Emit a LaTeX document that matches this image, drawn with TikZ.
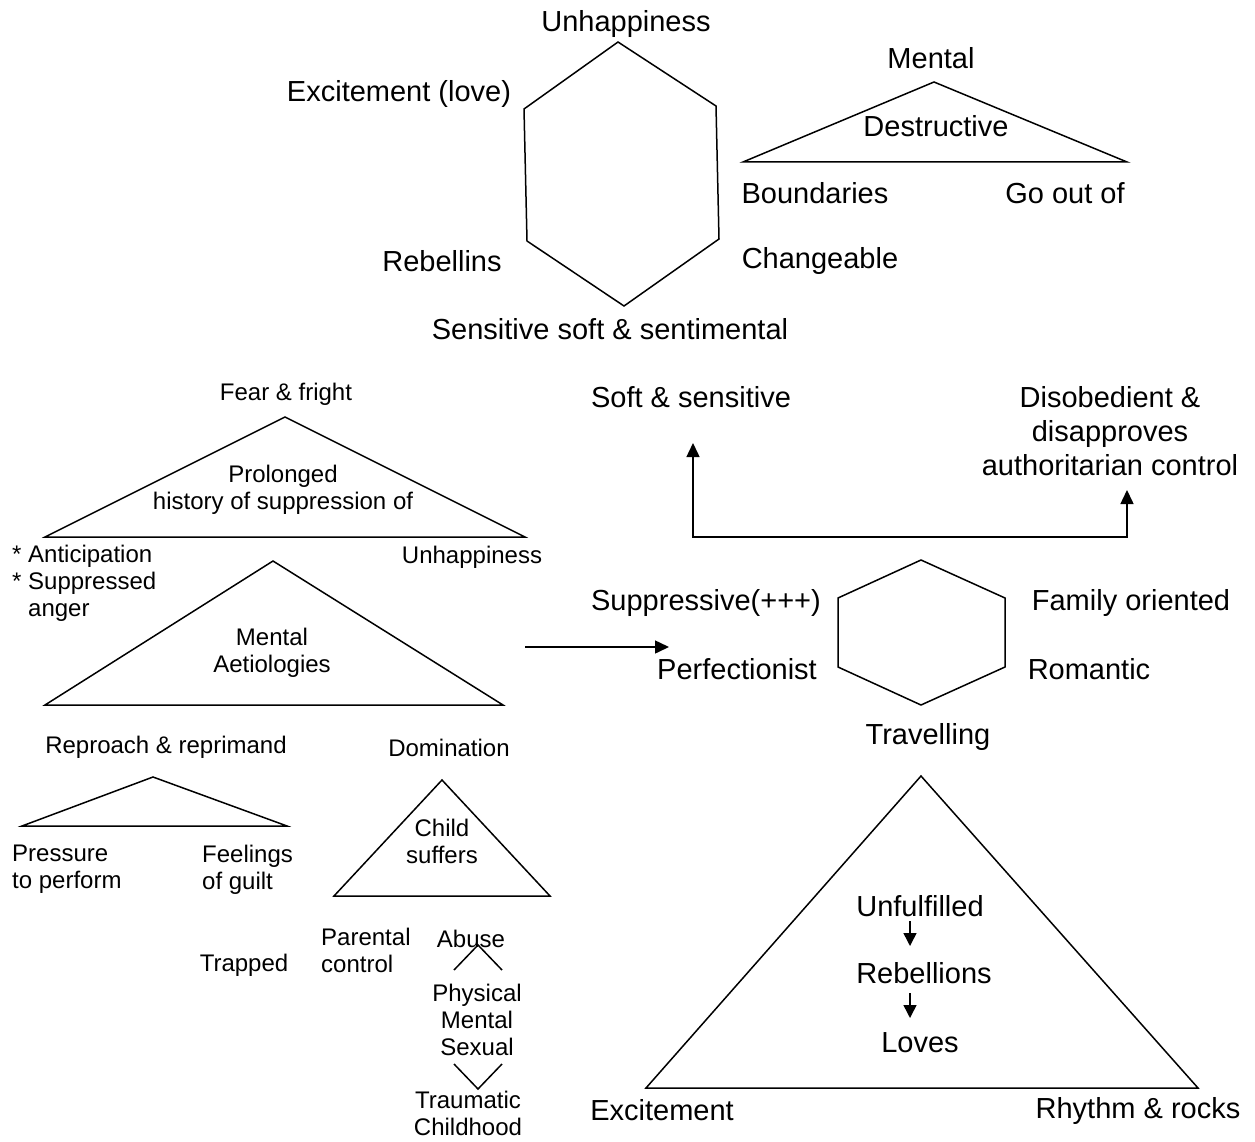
\documentclass[tikz,border=0pt]{standalone}
\usepackage{fontspec}
\setmainfont{Liberation Sans}
\usetikzlibrary{arrows.meta}
\begin{document}
\begin{tikzpicture}[x=1pt,y=-1pt,
  big/.style={font=\fontsize{29}{34}\selectfont, inner sep=0pt, align=center, yshift=1.5pt},
  small/.style={font=\fontsize{24}{27}\selectfont, inner sep=0pt, align=center, yshift=1.5pt},
  smallL/.style={font=\fontsize{24}{27}\selectfont, inner sep=0pt, align=left, anchor=west, yshift=1.5pt},
  outline/.style={line width=1.5pt, line join=miter},
  arr/.style={line width=1.5pt, -{Triangle[length=14pt,width=13pt]}},
  darr/.style={line width=1.5pt, {Triangle[length=14pt,width=13pt]}-{Triangle[length=14pt,width=13pt]}},
  sarr/.style={line width=1.5pt, -{Triangle[length=13pt,width=13pt]}}]
\useasboundingbox (0,0) rectangle (1255,1142);

% ---------- top hexagon ----------
\draw[outline] (618,42) -- (716,106) -- (719,239) -- (624,306) -- (527,241) -- (524,109) -- cycle;
\node[big] (unhap1) at (626,26) {Unhappiness};
\node[big] (excit) at (399,95) {Excitement (love)};
\node[big] (rebell) at (442,263) {Rebellins};
\node[big] (change) at (820,263) {Changeable};
\node[big] (sens) at (610,331) {Sensitive soft \& sentimental};

% ---------- top right triangle ----------
\draw[outline] (934,82) -- (1127,162) -- (743,162) -- cycle;
\node[big] (mental1) at (931,60) {Mental};
\node[big] (destr) at (936,128) {Destructive};
\node[big] (bound) at (815,195) {Boundaries};
\node[big] (goout) at (1065,195) {Go out of};

% ---------- middle left triangles ----------
\draw[outline] (285,417) -- (525,537) -- (45,537) -- cycle;
\node[small] (fear) at (286,396) {Fear \& fright};
\node[small] (prolong) at (283,491) {Prolonged\\history of suppression of};
\node[smallL] (antic) at (12,585) {* Anticipation\\* Suppressed\\\phantom{* }anger};
\node[small] (unhap2) at (472,559) {Unhappiness};

\draw[outline] (273,561) -- (503,705) -- (45,705) -- cycle;
\node[small] (aetio) at (272,654) {Mental\\Aetiologies};

% arrow to hexagon
\coordinate (arrS) at (525,647);
\coordinate (arrE) at (669,647);
\draw[arr] (arrS) -- (arrE);

% ---------- right hexagon ----------
\draw[outline] (921,560) -- (1005,598) -- (1005,667) -- (921,705) -- (838,667) -- (838,598) -- cycle;
\node[big] (suppr) at (706,604) {Suppressive(+++)};
\node[big] (family) at (1131,604) {Family oriented};
\node[big] (perf) at (737,671) {Perfectionist};
\node[big] (roman) at (1089,671) {Romantic};
\node[big] (travel) at (928,738) {Travelling};

% ---------- bracket with two arrows ----------
\node[big] (soft) at (691,399) {Soft \& sensitive};
\node[big] (disob) at (1110,433) {Disobedient \&\\disapproves\\authoritarian control};
\coordinate (tipL) at (693,443);
\coordinate (tipR) at (1127,490);
\draw[darr] (tipL) -- (693,537) -- (1127,537) -- (tipR);

% ---------- big bottom right triangle ----------
\draw[outline] (921,776) -- (1198,1088) -- (646,1088) -- cycle;
\node[big] (unful) at (920,908) {Unfulfilled};
\node[big] (rebel2) at (924,975) {Rebellions};
\node[big] (loves) at (920,1044) {Loves};
\coordinate (a1s) at (910,921);
\coordinate (a1e) at (910,946);
\coordinate (a2s) at (910,993);
\coordinate (a2e) at (910,1018);
\draw[sarr] (a1s) -- (a1e);
\draw[sarr] (a2s) -- (a2e);
\node[big] (excit2) at (662,1112) {Excitement};
\node[big] (rhythm) at (1138,1112) {Rhythm \& rocks};

% ---------- lower left ----------
\node[small] (reproach) at (166,749) {Reproach \& reprimand};
\draw[outline] (153,777) -- (287,826) -- (22,826) -- cycle;
\node[smallL] (press) at (12,871) {Pressure\\to perform};
\node[smallL] (feel) at (202,871) {Feelings\\of guilt};

\node[small] (domin) at (449,749) {Domination};
\draw[outline] (442,780) -- (550,896) -- (334,896) -- cycle;
\node[small] (child) at (442,843) {Child\\suffers};

\node[small] (trapped) at (244,967) {Trapped};
\node[smallL] (parent) at (321,952) {Parental\\control};
\node[small] (abuse) at (471,940) {Abuse};
\draw[outline] (454,970) -- (478,945) -- (502,970);
\node[small] (phys) at (477,1021) {Physical\\Mental\\Sexual};
\draw[outline] (454,1064) -- (478,1089) -- (502,1064);
\node[small] (trauma) at (468,1115) {Traumatic\\Childhood};
\end{tikzpicture}
\end{document}
